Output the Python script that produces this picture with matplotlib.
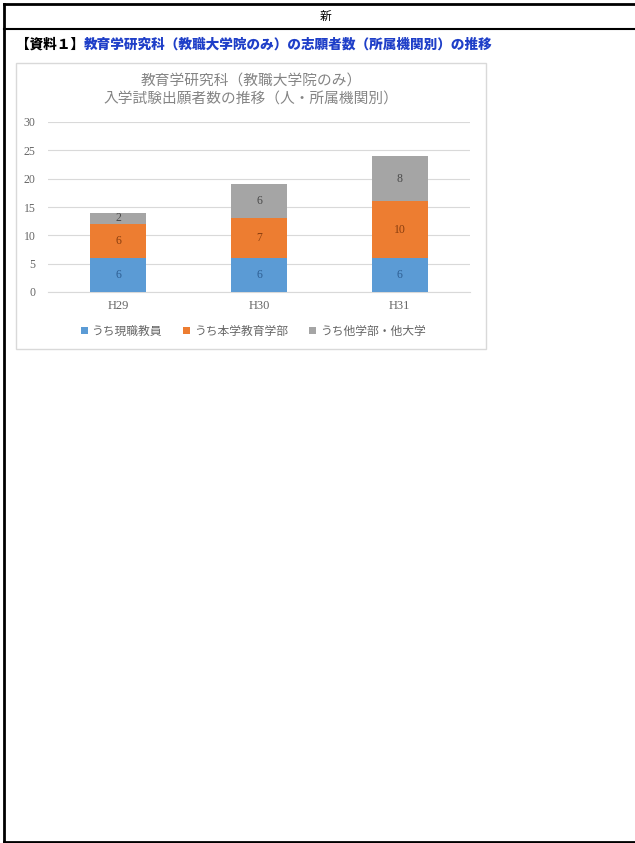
import numpy as np
import matplotlib
matplotlib.use("Agg")
import matplotlib.pyplot as plt
from matplotlib.patches import Rectangle
from matplotlib.lines import Line2D

plt.rcParams['font.family'] = ['Noto Sans CJK JP', 'DejaVu Sans']

years = ['H29', 'H30', 'H31']
genshoku = [6, 6, 6]        # うち現職教員
honkyoiku = [6, 7, 10]      # うち本学教育学部
tagakubu = [2, 6, 8]        # うち他学部・他大学
series_names = ['うち現職教員', 'うち本学教育学部', 'うち他学部・他大学']
yticks = [0, 5, 10, 15, 20, 25, 30]

W, H = 635, 843
fig = plt.figure(figsize=(W / 100, H / 100), dpi=100)

def fx(px):
    return px / W

def fy(py):
    return 1 - py / H

# page frame
for xs, ys, lw in [([4, 4], [4, 842], 2.0), ([4, 635], [4, 4], 2.0),
                   ([4, 635], [29, 29], 1.5), ([4, 635], [842, 842], 2.0)]:
    fig.add_artist(Line2D([fx(x) for x in xs], [fy(y) for y in ys],
                          color='black', lw=lw, transform=fig.transFigure))

fig.text(fx(325), fy(16), '新', ha='center', va='center', fontsize=8.5)

t1 = fig.text(fx(16), fy(44.5), '【資料１】', ha='left', va='center',
              fontsize=9.8, fontweight='heavy', color='black')
fig.canvas.draw()
bb = t1.get_window_extent(fig.canvas.get_renderer())
fig.text(bb.x1 / W, fy(44.5), '教育学研究科（教職大学院のみ）の志願者数（所属機関別）の推移',
         ha='left', va='center', fontsize=9.8, fontweight='heavy', color='#1f3fc8')

# chart box (behind the axes)
fig.add_artist(Rectangle((fx(16), fy(349)), fx(486) - fx(16), fy(63) - fy(349),
                         transform=fig.transFigure, facecolor='white',
                         edgecolor='#d9d9d9', lw=1.0, zorder=-1))

fig.text(fx(251), fy(82), '教育学研究科（教職大学院のみ）', ha='center', va='center',
         fontsize=10.6, color='#858585')
fig.text(fx(251), fy(100), '入学試験出願者数の推移（人・所属機関別）', ha='center', va='center',
         fontsize=10.6, color='#858585')

ax = fig.add_axes([fx(48), fy(292), fx(470) - fx(48), fy(122) - fy(292)])
ax.set_facecolor('none')
x = np.arange(len(years))
colors = ['#5b9bd5', '#ed7d31', '#a5a5a5']
label_colors = ['#2e5f93', '#8a3e0e', '#4a4a4a']
bottom = np.zeros(len(years))
handles = []
for vals, c, lc, name in zip([genshoku, honkyoiku, tagakubu], colors, label_colors, series_names):
    vals = np.array(vals, dtype=float)
    bars = ax.bar(x, vals, 0.4, bottom=bottom, color=c, label=name, zorder=3)
    handles.append(bars)
    for xi, b, v in zip(x, bottom, vals):
        ax.text(xi, b + v / 2, f'{int(v)}', ha='center', va='center',
                fontsize=8.5, color=lc, family=['Liberation Serif'], zorder=4)
    bottom += vals

ax.set_xlim(-0.5, 2.5)
ax.set_ylim(0, 30)
ax.set_yticks(yticks)
ax.set_xticks(x)
ax.set_xticklabels(years, family=['Liberation Serif'], fontsize=9, color='#666666')
ax.set_yticklabels([str(v) for v in yticks], family=['Liberation Serif'], fontsize=8.5, color='#666666')
ax.yaxis.grid(True, color='#d9d9d9', lw=0.8, zorder=0)
ax.tick_params(length=0, pad=6)
ax.tick_params(axis='y', pad=9)
for s in ['top', 'right', 'left']:
    ax.spines[s].set_visible(False)
ax.spines['bottom'].set_color('#d9d9d9')

fig.legend(handles=handles, labels=series_names, loc='center', ncol=3,
           bbox_to_anchor=(fx(253), fy(331)), frameon=False, fontsize=8.5,
           labelcolor='#666666', handlelength=0.6, handleheight=0.6,
           handletextpad=0.3, columnspacing=1.8)

fig.savefig('out.png', dpi=100)
